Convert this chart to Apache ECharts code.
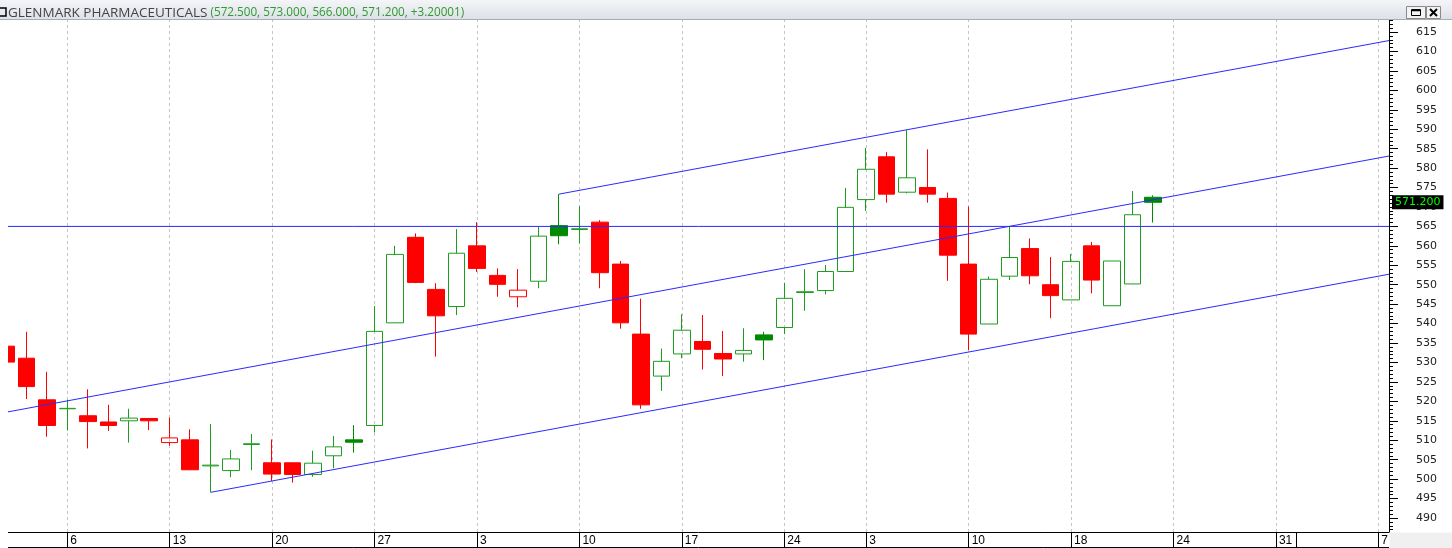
<!DOCTYPE html>
<html><head><meta charset="utf-8">
<script src="https://cdn.jsdelivr.net/npm/echarts@6/dist/echarts.min.js"></script>
<style>html,body{margin:0;padding:0;background:#fff;overflow:hidden}#c{width:1452px;height:548px}</style>
</head><body><div id="c"></div>
<script>
const symbolName = 'GLENMARK PHARMACEUTICALS';
const changeLabel = '+3.20001';
// trading-day index 0..56
const opens  = [534.2,531.1,520.4,518.1,516.3,514.7,515.0,515.6,509.4,510.1,503.4,502.2,508.9,504.2,504.2,501.2,506.0,510.1,513.8,540.2,562.2,548.8,544.4,560.0,552.4,546.9,550.9,565.2,564.2,566.1,555.3,537.3,526.5,532.2,535.4,532.3,532.2,537.1,539.0,548.0,548.5,553.4,571.9,582.9,573.8,575.0,572.2,555.3,539.9,552.2,559.3,550.0,546.1,560.0,544.6,550.2,572.5];
const closes = [530.1,523.8,513.8,518.2,514.8,513.8,515.7,515.0,510.6,502.4,503.6,505.2,509.1,501.3,501.2,504.1,508.3,509.5,538.0,557.8,550.6,542.0,558.1,554.2,550.1,548.6,562.5,562.6,564.4,553.1,540.2,519.1,530.3,538.3,533.4,530.9,533.1,535.8,546.5,548.2,553.4,569.9,579.7,573.3,577.5,573.3,557.6,537.3,551.4,557.0,552.3,547.2,556.0,551.2,556.1,568.0,571.2];
const lows   = [529.5,520.6,510.9,512.5,507.9,512.4,509.4,512.6,508.6,502.4,496.6,500.5,502.3,499.5,499.1,500.6,502.8,506.8,512.0,540.2,550.4,531.5,542.2,553.3,546.9,544.2,549.1,560.4,560.6,549.1,538.7,518.1,522.7,531.1,528.2,526.5,530.2,530.6,537.3,543.3,547.5,553.4,569.0,571.1,573.5,571.1,551.0,533.2,539.9,551.2,550.1,541.4,546.1,547.8,544.6,550.2,566.0];
const highs  = [535.0,537.9,527.6,520.4,523.1,519.1,518.1,515.6,515.8,512.8,514.2,507.5,511.6,510.2,504.2,507.3,511.1,513.9,544.5,560.0,563.2,550.4,564.3,566.1,554.2,554.0,564.9,573.3,570.2,566.6,556.1,546.4,533.6,542.4,542.2,538.1,538.8,537.9,550.5,554.0,555.1,574.9,585.2,584.1,589.8,584.8,573.7,570.1,552.1,564.9,561.9,557.1,557.9,561.0,556.1,574.1,573.0];
// date ticks (bar index) and their labels
const tickIdx    = [3,8,13,18,23,28,33,38,42,47,52,57,62,67];
const tickLabels = ['6','13','20','27','3','10','17','24','3','10','18','24','31','7'];
const monthStartIdx = [63];
const yLabels = [490,495,500,505,510,515,520,525,530,535,540,545,550,555,560,565,570,575,580,585,590,595,600,605,610,615];
// drawn study lines: [barIndex, price]
const XMIN = 0.105, XMAX = 67.52;
const upperChannel  = [[27, 573.3], [67.52, 612.8]];
const middleChannel = [[0.105, 517.3], [67.52, 583.1]];
const lowerChannel  = [[10, 496.6], [67.52, 552.7]];
const levelLine = 565;
const YMIN = 486.40, YMAX = 618.09;

const RED = '#ff0000', GREEN_H = '#1e9c1e', GREEN_F = '#008a00';
const candleData = opens.map((o, i) => {
  const c = closes[i];
  const prev = i > 0 ? closes[i - 1] : o;
  const up = c >= prev;
  const hollow = c > o;
  const col = up ? (hollow ? GREEN_H : GREEN_F) : RED;
  const fill = hollow ? 'rgba(255,255,255,0)' : col;
  return { value: [i, o, c, lows[i], highs[i]],
           itemStyle: { color: fill, color0: fill, borderColor: col, borderColor0: col, borderWidth: 1 } };
});
const minorVals = [];
for (let v = Math.ceil(YMIN); v <= Math.floor(YMAX); v++) minorVals.push(v);
const last = opens.length - 1;
const titleVals = '(' + [opens[last], highs[last], lows[last], closes[last]].map(v => v.toFixed(3)).join(', ') + ', ' + changeLabel + ')';

const chart = echarts.init(document.getElementById('c'), null, { renderer: 'canvas' });
const lineBase = { type: 'line', symbol: 'none', silent: true, animation: false, z: 4,
  lineStyle: { color: '#2a2aff', width: 1 } };
chart.setOption({
  animation: false,
  backgroundColor: '#ffffff',
  grid: { left: 8, right: 63, top: 20, bottom: 16 },
  xAxis: {
    type: 'value', min: XMIN, max: XMAX,
    axisLine: { show: true, onZero: false, lineStyle: { color: '#000', width: 1 } },
    splitLine: { show: false },
    axisTick: { show: true, customValues: tickIdx.concat(monthStartIdx), length: 15, lineStyle: { color: '#000' } },
    axisLabel: { customValues: tickIdx, align: 'left', padding: [0, 0, 0, 3], margin: 2,
      fontSize: 12, color: '#000', fontFamily: 'Liberation Sans', lineHeight: 13,
      formatter: v => { const k = tickIdx.indexOf(Math.round(v)); return k >= 0 ? tickLabels[k] : ''; } }
  },
  yAxis: [{
    type: 'value', position: 'right', min: YMIN, max: YMAX,
    axisLine: { show: true, lineStyle: { color: '#000', width: 1 } },
    axisTick: { show: true, customValues: minorVals, length: 4, lineStyle: { color: '#000' } },
    axisLabel: { customValues: yLabels, margin: 27, fontSize: 11, color: '#222', fontFamily: 'DejaVu Sans' },
    splitLine: { show: false }
  }, {
    type: 'value', position: 'right', min: YMIN, max: YMAX,
    axisLine: { show: false },
    axisTick: { show: true, customValues: yLabels, length: 9, lineStyle: { color: '#000' } },
    axisLabel: { show: false }, splitLine: { show: false }
  }],
  series: [
    { type: 'candlestick', z: 2, clip: true, barWidth: 17,
      dimensions: ['idx', 'open', 'close', 'lowest', 'highest'],
      encode: { x: 'idx', y: ['open', 'close', 'lowest', 'highest'] },
      data: candleData },
    Object.assign({}, lineBase, { data: upperChannel }),
    Object.assign({}, lineBase, { data: middleChannel }),
    Object.assign({}, lineBase, { data: lowerChannel,
      markLine: { z: 1, silent: true, symbol: ['none', 'none'], animation: false,
        label: { show: false },
        lineStyle: { color: '#c4c4c4', type: [3, 3], width: 1 },
        data: tickIdx.map(v => ({ xAxis: v })) } }),
    Object.assign({}, lineBase, { data: [[XMIN, levelLine], [XMAX, levelLine]],
      markLine: { z: 8, silent: true, symbol: ['none', 'none'], animation: false,
        lineStyle: { color: 'rgba(0,0,0,0)', width: 0 },
        label: { show: true, position: 'end', distance: 3, formatter: closes[last].toFixed(3),
          color: '#00ff00', backgroundColor: '#000', padding: [2, 3, 1, 3], fontSize: 11,
          fontFamily: 'DejaVu Sans' },
        data: [{ yAxis: closes[last] }] } })
  ],
  graphic: [
    { type: 'rect', z: 9, shape: { x: 0, y: 19, width: 8, height: 514 }, style: { fill: '#ffffff' } },
    { type: 'rect', z: 10, shape: { x: 0, y: 0, width: 1452, height: 19 },
      style: { fill: new echarts.graphic.LinearGradient(0, 0, 0, 1, [{ offset: 0, color: '#f4f5f8' }, { offset: 1, color: '#dde1e8' }]) } },
    { type: 'line', z: 10, shape: { x1: 0, y1: 19.5, x2: 1452, y2: 19.5 }, style: { stroke: '#a6adb6', lineWidth: 1 } },
    { type: 'rect', z: 11, shape: { x: -4, y: 8, width: 10, height: 8 }, style: { fill: 'none', stroke: '#000', lineWidth: 1.5 } },
    { type: 'text', z: 11, x: 8, y: 13,
      style: { text: '{a|' + symbolName + '}{b| ' + titleVals + '}', verticalAlign: 'middle',
        font: '13.5px "Open Sans"',
        rich: { a: { fill: '#444444', fontSize: 13.5, fontFamily: 'Open Sans' },
                b: { fill: '#2f9a2f', fontSize: 11.7, fontFamily: 'Open Sans' } } } },
    { type: 'rect', z: 11, shape: { x: 1406.5, y: 6.5, width: 19, height: 12 }, style: { fill: '#f3f3f3', stroke: '#8a8a8a', lineWidth: 1 } },
    { type: 'rect', z: 12, shape: { x: 1411.5, y: 9.5, width: 9, height: 6 }, style: { fill: 'none', stroke: '#000', lineWidth: 1 } },
    { type: 'line', z: 12, shape: { x1: 1411.5, y1: 10.5, x2: 1420.5, y2: 10.5 }, style: { stroke: '#000', lineWidth: 1.5 } },
    { type: 'rect', z: 11, shape: { x: 1426.5, y: 6.5, width: 14, height: 12 }, style: { fill: '#f3f3f3', stroke: '#8a8a8a', lineWidth: 1 } },
    { type: 'line', z: 12, shape: { x1: 1430, y1: 9, x2: 1437, y2: 16 }, style: { stroke: '#000', lineWidth: 2 } },
    { type: 'line', z: 12, shape: { x1: 1437, y1: 9, x2: 1430, y2: 16 }, style: { stroke: '#000', lineWidth: 2 } },
    { type: 'line', z: 10, shape: { x1: 8, y1: 547.5, x2: 1389, y2: 547.5 }, style: { stroke: '#000', lineWidth: 1 } },
    { type: 'rect', z: 10, shape: { x: 1389.5, y: 532.5, width: 63, height: 16 }, style: { fill: '#f0f0f0' } }
  ]
});
</script></body></html>
